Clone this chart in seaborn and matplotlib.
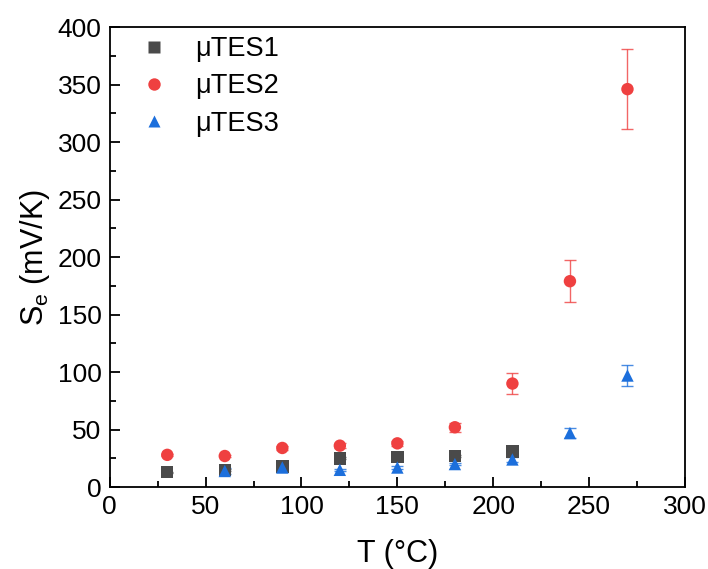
import numpy as np
import pandas as pd
import matplotlib
matplotlib.use("Agg")
import matplotlib.pyplot as plt
import seaborn as sns
from matplotlib.ticker import MultipleLocator

# data
temps = [30, 60, 90, 120, 150, 180, 210, 240, 270]
s_tes1 = [13, 15, 18, 25, 26, 27, 31, np.nan, np.nan]
s_tes2 = [28, 27, 34, 36, 38, 52, 90, 179, 346]
s_tes3 = [np.nan, 14, 17, 15, 17, 20, 24, 47, 97]
err_tes1 = [0.5, 1, 1, 1, 1, 1, 1, np.nan, np.nan]
err_tes2 = [1, 1, 2, 2, 2, 4, 9, 18, 35]
err_tes3 = [np.nan, 3, 3, 1, 1, 1, 2, 4, 9]

labels = ["μTES1", "μTES2", "μTES3"]
colors = {"μTES1": "#4a4a4a", "μTES2": "#ef4040", "μTES3": "#1c6fdc"}
markers = {"μTES1": "s", "μTES2": "o", "μTES3": "^"}

df = pd.concat([
    pd.DataFrame({"T": temps, "S": s, "err": e, "sample": lab})
    for s, e, lab in zip([s_tes1, s_tes2, s_tes3], [err_tes1, err_tes2, err_tes3], labels)
]).dropna()

sns.set_style("ticks", {"axes.edgecolor": "black", "text.color": "black",
                        "xtick.color": "black", "ytick.color": "black",
                        "axes.labelcolor": "black"})
plt.rcParams["font.family"] = ["Liberation Sans", "DejaVu Sans"]

fig = plt.figure(figsize=(7.08, 5.69), dpi=100)
ax = fig.add_axes([0.155, 0.144, 0.8125, 0.8085])

for lab in labels:
    sub = df[df["sample"] == lab]
    ax.errorbar(sub["T"], sub["S"], yerr=sub["err"], fmt="none", ecolor=colors[lab],
                elinewidth=1, capsize=4, capthick=1, alpha=0.8, zorder=1)

sns.scatterplot(data=df, x="T", y="S", hue="sample", style="sample", palette=colors,
                markers=markers, s=80, edgecolor="none", ax=ax, zorder=2)

ax.set_xlim(0, 300)
ax.set_ylim(0, 400)
ax.xaxis.set_major_locator(MultipleLocator(50))
ax.xaxis.set_minor_locator(MultipleLocator(25))
ax.yaxis.set_major_locator(MultipleLocator(50))
ax.yaxis.set_minor_locator(MultipleLocator(25))
ax.tick_params(which="both", direction="in", top=False, right=False, labelsize=19, width=1.3)
ax.tick_params(which="major", length=7, pad=6)
ax.tick_params(which="minor", length=4)
for sp in ax.spines.values():
    sp.set_linewidth(1.3)

ax.set_xlabel("T (°C)", fontsize=22, labelpad=14)
ax.set_ylabel("S$_\\mathregular{e}$ (mV/K)", fontsize=22, labelpad=4)

leg = ax.legend(loc="upper left", frameon=False, fontsize=19.5, handletextpad=0.5,
                borderaxespad=0.0, labelspacing=0.42, markerscale=1.0,
                bbox_to_anchor=(0.016, 0.998), borderpad=0.3)

fig.savefig("out.png", dpi=100)
